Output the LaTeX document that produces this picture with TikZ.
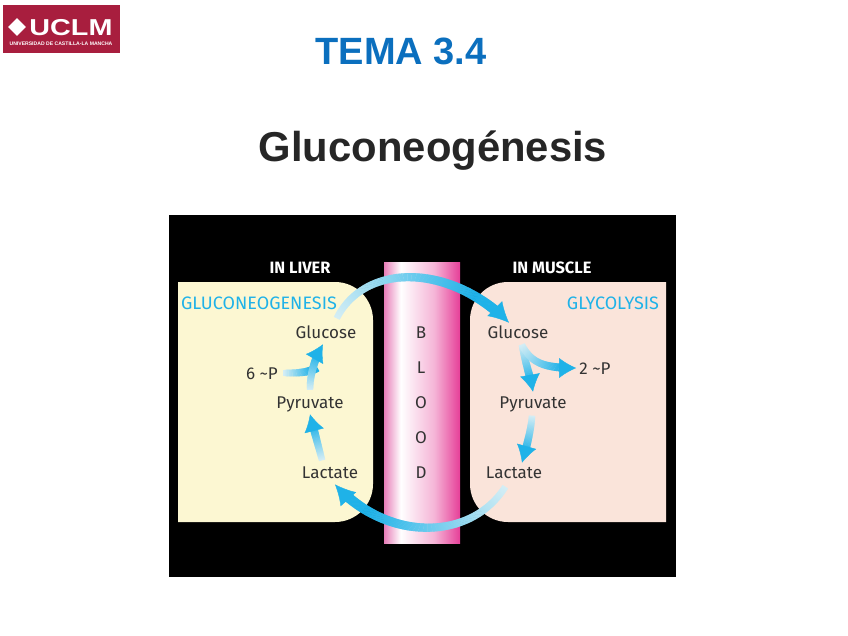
\documentclass[tikz,border=0pt]{standalone}
\usepackage{fontspec}
\setmainfont{Liberation Sans}
\newfontfamily\labelfont{Fira Sans}
\usetikzlibrary{arrows.meta,calc,positioning}
\usetikzlibrary{shapes.geometric}
\usetikzlibrary{decorations.markings}
\definecolor{flowblue}{HTML}{1FB2E8}
\definecolor{flowpale}{HTML}{D5EEF5}
\definecolor{titleblue}{HTML}{0B6FBE}
\definecolor{uclmred}{HTML}{A81E3E}
\definecolor{livercream}{HTML}{FCF7D2}
\definecolor{musclepeach}{HTML}{FAE4DA}
\definecolor{bloodleft}{HTML}{E77DB8}
\definecolor{bloodmid}{HTML}{F5B5D7}
\definecolor{bloodright}{HTML}{E63F98}
\pgfdeclarehorizontalshading{bloodshade}{100bp}{
color(0bp)=(bloodleft);
color(25bp)=(bloodleft);
color(36bp)=(white);
color(58bp)=(bloodmid);
color(75bp)=(bloodright);
color(100bp)=(bloodright)}
\newcommand{\flowslice}[2]{
\pgfmathsetmacro\flowfrac{\pgfkeysvalueof{/pgf/decoration/mark info/distance from start}/\pgfdecoratedpathlength}
\pgfmathsetmacro\flowpct{min(100,\flowfrac*#1)}
\pgfmathsetmacro\flowhalf{3.2+#2*\flowfrac}
\fill[flowblue!\flowpct!flowpale] (-0.6,-\flowhalf) rectangle (0.6,\flowhalf);}
\tikzset{
flowbody/.style={decoration={markings,
mark=between positions 0 and 1 step 0.8pt with {\flowslice{120}{1}}},decorate},
flowarrow/.style={decoration={markings,
mark=between positions 0 and -14pt step 0.8pt with {\flowslice{130}{1}},
mark=at position 0.999 with {\arrow[flowblue]{Latex[length=17pt,width=20pt]}}},decorate},
bigflow/.style={decoration={markings,
mark=between positions 0 and -18pt step 0.8pt with {\flowslice{130}{2}},
mark=at position -4pt with {\arrow[flowblue]{Latex[length=20pt,width=21pt]}}},decorate},
metabolite/.style={font=\labelfont\fontsize{17}{17}\selectfont,text=black!80,inner ysep=3pt,inner xsep=0pt,text height=15pt,text depth=3pt},
heading/.style={font=\labelfont\bfseries\fontsize{16.4}{17}\selectfont,text=white,inner sep=0pt},
pathway/.style={font=\labelfont\fontsize{18}{18}\selectfont,text=flowblue,inner sep=0pt}
}
\begin{document}
\begin{tikzpicture}[x=1pt,y=-1pt]
\path[use as bounding box,fill=white] (0,0) rectangle (848,636);
% logo
\fill[uclmred] (3,5) rectangle (120,53);
\node[diamond,fill=white,minimum size=18pt,inner sep=0pt] (U0) at (17,27) {};
\node[text=white,inner sep=0pt,xscale=1.25,font=\bfseries\fontsize{23}{23}\selectfont] (U1) at (71,28) {UCLM};
\node[text=white,inner sep=0pt,font=\bfseries\fontsize{5.1}{6}\selectfont] (U2) at (61,44) {UNIVERSIDAD DE CASTILLA-LA MANCHA};
% titles
\node[text=titleblue,inner sep=0pt,font=\bfseries\fontsize{38}{38}\selectfont] (T1) at (401,51) {TEMA 3.4};
\node[text=black!85,inner sep=0pt,font=\bfseries\fontsize{41.8}{42}\selectfont] (T2) at (433,151) {Gluconeogénesis};
% panels
\fill[black] (169,215) rectangle (676,577);
\fill[livercream] (178,282) [rounded corners=38pt] -- (373,282) -- (373,522) [sharp corners] -- (178,522) -- cycle;
\fill[musclepeach] (666,282) [rounded corners=38pt] -- (470,282) -- (470,522) [sharp corners] -- (666,522) -- cycle;
\shade[shading=bloodshade] (384,263) rectangle (460,543);
\node[heading] (H1) at (300,268) {IN LIVER};
\node[heading] (H2) at (552,268) {IN MUSCLE};
\node[pathway] (P1) at (259,303) {GLUCONEOGENESIS};
\node[pathway] (P2) at (613,303) {GLYCOLYSIS};
% metabolites
\node[metabolite] (A1) at (326,332) {Glucose};
\node[metabolite] (A2) at (310,402) {Pyruvate};
\node[metabolite] (A3) at (330,472) {Lactate};
\node[metabolite] (A4) at (262,373) {6 \textasciitilde P};
\node[metabolite] (B1) at (518,332) {Glucose};
\node[metabolite] (B2) at (533,402) {Pyruvate};
\node[metabolite] (B3) at (514,472) {Lactate};
\node[metabolite] (B4) at (595,368) {2 \textasciitilde P};
% blood letters
\foreach \n/\t/\y in {C1/B/332,C2/L/367,C3/O/402,C4/O/437,C5/D/472}
\node[metabolite] (\n) at (421,\y) {\t};
% arrows
\coordinate (A5) at ($(A4.east)+(6,0)$);
\coordinate (A6) at ($(A2.north)+(7,-22)$);
\path[flowbody] (A5) .. controls (297,373) and (308,373) .. (A6);
\path[flowarrow] ($(A3.north)+(-8,0)$) .. controls (318,445) and (314,430) .. (A2.south);
\path[flowarrow] (A2.north) .. controls (310,375) and (314,360) .. ($(A1.south)+(-3,0)$);
\path[flowarrow] ($(B1.south)+(4,1)$) .. controls (525,362) and (530,375) .. ($(B2.north)+(0,2)$);
\path[flowarrow] ($(B1.south)+(4,1)$) .. controls (532,364) and (545,368) .. ($(B4.west)+(-3,0)$);
\path[flowarrow] ($(B2.south)+(-1,2)$) .. controls (531,430) and (527,445) .. ($(B3.north)+(8,3)$);
\path[bigflow] ($(A1.north)+(11,-2)$) .. controls (365,263) and (450,262) .. ($(B1.north)+(-7,5)$);
\path[bigflow] ($(B3.south)+(-9,3)$) .. controls (470,542) and (385,542) .. ($(A3.south)+(3,-2)$);
\end{tikzpicture}
\end{document}
